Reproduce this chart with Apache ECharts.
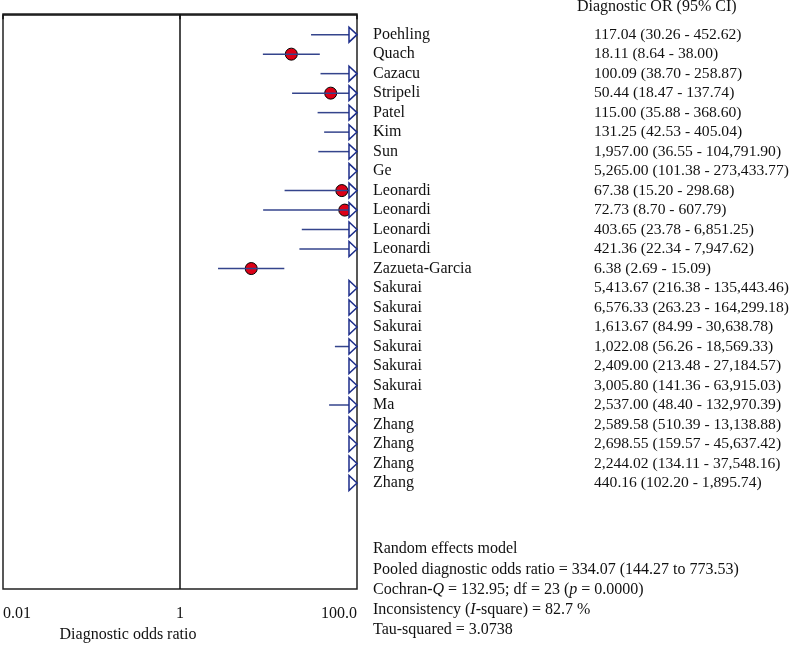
<!DOCTYPE html>
<html>
<head>
<meta charset="utf-8">
<script src="https://cdn.jsdelivr.net/npm/echarts@6/dist/echarts.min.js"></script>
<style>html,body{margin:0;padding:0;background:#fff}#c{width:792px;height:645px}</style>
</head>
<body>
<div id="c"></div>
<script>
const studies = ['Poehling','Quach','Cazacu','Stripeli','Patel','Kim','Sun','Ge','Leonardi','Leonardi','Leonardi','Leonardi','Zazueta-Garcia','Sakurai','Sakurai','Sakurai','Sakurai','Sakurai','Sakurai','Ma','Zhang','Zhang','Zhang','Zhang'];
const orValues = [117.04,18.11,100.09,50.44,115.00,131.25,1957.00,5265.00,67.38,72.73,403.65,421.36,6.38,5413.67,6576.33,1613.67,1022.08,2409.00,3005.80,2537.00,2589.58,2698.55,2244.02,440.16];
const lowerCI = [30.26,8.64,38.70,18.47,35.88,42.53,36.55,101.38,15.20,8.70,23.78,22.34,2.69,216.38,263.23,84.99,56.26,213.48,141.36,48.40,510.39,159.57,134.11,102.20];
const upperCI = [452.62,38.00,258.87,137.74,368.60,405.04,104791.90,273433.77,298.68,607.79,6851.25,7947.62,15.09,135443.46,164299.18,30638.78,18569.33,27184.57,63915.03,132970.39,13138.88,45637.42,37548.16,1895.74];
const xTicks = [0.01, 1, 100];
const xTickLabels = ['0.01', '1', '100.0'];
const headerText = 'Diagnostic OR (95% CI)';
const xAxisTitle = 'Diagnostic odds ratio';
const summaryLines = [
  'Random effects model',
  'Pooled diagnostic odds ratio = 334.07 (144.27 to 773.53)',
  'Cochran-{i|Q} = 132.95; df = 23 ({i|p} = 0.0000)',
  'Inconsistency ({i|I}-square) = 82.7 %',
  'Tau-squared = 3.0738'
];

const FONT = '"Liberation Serif", "DejaVu Serif", serif';
const FS = 16;
const FSV = 15.6;
const AXMAX = 100;
const navy = '#34448c';
const triNavy = '#1c2d8a';

const fmt = v => v.toLocaleString('en-US', {minimumFractionDigits: 2, maximumFractionDigits: 2});
const rows = studies.map((s, i) => [orValues[i], i + 1, lowerCI[i], upperCI[i], i]);

const chart = echarts.init(document.getElementById('c'), null, {renderer: 'canvas'});

function renderItem(params, api) {
  const i = api.value(4);
  const est = api.value(0), lo = api.value(2), hi = api.value(3), y = api.value(1);
  const children = [];
  const pEdge = api.coord([AXMAX, y]);
  const yy = pEdge[1];
  const xEdge = pEdge[0];
  const triW = 8, triH = 7.5;
  const clipHi = hi > AXMAX;
  const lineEnd = clipHi ? xEdge - triW : api.coord([hi, y])[0];
  const showDot = est <= AXMAX;
  if (showDot) {
    const pc = api.coord([est, y]);
    children.push({type: 'circle', shape: {cx: pc[0], cy: yy, r: 6}, style: {fill: '#dc0016', stroke: '#000', lineWidth: 1}, z2: 5});
  }
  if (lo < AXMAX) {
    const x0 = api.coord([lo, y])[0];
    if (lineEnd > x0) {
      children.push({type: 'line', shape: {x1: x0, y1: yy, x2: lineEnd, y2: yy}, style: {stroke: navy, lineWidth: 1.5}, z2: 6});
    }
  }
  if (clipHi) {
    children.push({type: 'polygon', shape: {points: [[xEdge, yy], [xEdge - triW, yy - triH], [xEdge - triW, yy + triH]]}, style: {fill: '#fff', stroke: triNavy, lineWidth: 1.5}, z2: 7});
  }
  children.push({type: 'text', style: {text: studies[i], x: 373, y: yy, verticalAlign: 'middle', align: 'left', font: FS + 'px ' + FONT, fill: '#111'}});
  children.push({type: 'text', style: {text: fmt(orValues[i]) + ' (' + fmt(lowerCI[i]) + ' - ' + fmt(upperCI[i]) + ')', x: 594, y: yy, verticalAlign: 'middle', align: 'left', font: FSV + 'px ' + FONT, fill: '#111'}});
  return {type: 'group', children};
}

const graphics = [
  {type: 'text', x: 577, y: 7, style: {text: headerText, align: 'left', verticalAlign: 'middle', font: FS + 'px ' + FONT, fill: '#111'}},
  {type: 'text', x: 128, y: 635, style: {text: xAxisTitle, align: 'center', verticalAlign: 'middle', font: FS + 'px ' + FONT, fill: '#111'}}
];
summaryLines.forEach((t, k) => {
  graphics.push({type: 'text', x: 373, y: 549 + k * 20.3, style: {text: t, align: 'left', verticalAlign: 'middle', font: FS + 'px ' + FONT, fill: '#111', rich: {i: {fontStyle: 'italic', fontSize: FS, fontFamily: FONT, fill: '#111'}}}});
});

chart.setOption({
  animation: false,
  grid: {left: 3, right: 435, top: 14, bottom: 56, show: true, borderColor: '#222', borderWidth: 1.5, backgroundColor: 'transparent'},
  xAxis: {
    type: 'log', logBase: 10, min: 0.01, max: 100,
    axisLine: {show: true, lineStyle: {color: '#111', width: 1.5}},
    axisTick: {show: true, customValues: xTicks, length: 4, lineStyle: {color: '#111', width: 1.5}},
    axisLabel: {show: true, customValues: xTicks, margin: 17, color: '#111', fontSize: FS, fontFamily: FONT,
      alignMinLabel: 'left', alignMaxLabel: 'right',
      formatter: v => { const k = xTicks.findIndex(t => Math.abs(t - v) < 1e-9 * Math.max(1, t)); return k >= 0 ? xTickLabels[k] : ''; }},
    splitLine: {show: false}
  },
  yAxis: {type: 'value', inverse: true, min: -0.06, max: 29.44, show: false},
  graphic: graphics,
  series: [{
    type: 'custom', renderItem, data: rows, clip: false,
    encode: {x: 0, y: 1},
    markLine: {silent: true, symbol: 'none', label: {show: false}, lineStyle: {color: '#111', width: 1.5, type: 'solid'}, data: [{xAxis: 1}]}
  }]
});
</script>
</body>
</html>
